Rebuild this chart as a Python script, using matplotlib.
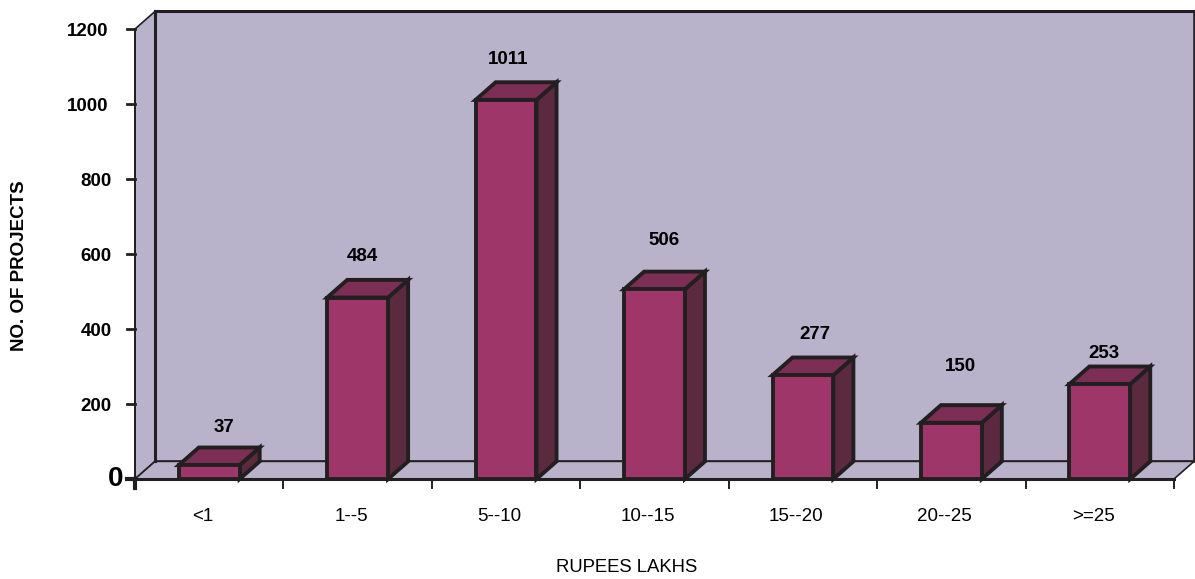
#!/usr/bin/env python3
"""
Projects by cost band, drawn as a pseudo 3D column chart.
"""
import matplotlib.pyplot as plt
from matplotlib.patches import Polygon

categories = ["<1", "1--5", "5--10", "10--15", "15--20", "20--25", ">=25"]
projects = [37, 484, 1011, 506, 277, 150, 253]
y_ticks = [0, 200, 400, 600, 800, 1000, 1200]
label_gap = [101, 110, 107, 131, 109, 149, 83]  # value label height above the column
label_shift = [0.10, 0.035, 0.013, 0.065, 0.08, 0.06, 0.027]  # value label offset along x

WALL = "#b8b3ca"
FRONT = "#9e3669"
TOP = "#7c2e55"
SIDE = "#5c2a3e"
INK = "#231f20"

W, H = 1195, 579
DX, DY = 0.135, 47  # depth of the box in data units
BAR_W = 0.41


def face(ax, pts, color, lw=2.8, z=1):
    ax.add_patch(Polygon(pts, closed=True, facecolor=color, edgecolor=INK, lw=lw,
                         joinstyle="miter", clip_on=False, zorder=z))


def main():
    plt.rcParams["font.family"] = ["Liberation Sans", "DejaVu Sans"]
    fig = plt.figure(figsize=(W / 100, H / 100), dpi=100, facecolor="white")
    ax = fig.add_axes([135 / W, 1 - 479 / H, 1039 / W, 450 / H])
    n = len(categories)
    ax.set_xlim(0, n)
    ax.set_ylim(0, 1200)
    ax.axis("off")

    # back wall, side wall and floor
    top = y_ticks[-1]
    face(ax, [(DX, DY), (n + DX, DY), (n + DX, top + DY), (DX, top + DY)], WALL, lw=1.8)
    face(ax, [(0, 0), (DX, DY), (DX, top + DY), (0, top)], WALL, lw=1.2)
    face(ax, [(0, 0), (n, 0), (n + DX, DY), (DX, DY)], WALL, lw=1.2)
    ax.plot([DX, DX], [DY, top + DY], color=INK, lw=2.2, zorder=2, clip_on=False)
    ax.plot([DX, n + DX], [top + DY, top + DY], color=INK, lw=2.2, zorder=2, clip_on=False)
    ax.plot([0, 0], [0, top], color=INK, lw=1.4, zorder=2, clip_on=False)
    ax.plot([0, n], [0, 0], color=INK, lw=2.2, zorder=2, clip_on=False)

    # value axis ticks and labels
    for v in y_ticks:
        ax.plot([-0.054, 0], [v, v], color=INK, lw=3 if v == 0 else 2.0, zorder=2, clip_on=False)
        if v == 0:
            ax.text(-0.08, v, str(v), ha="right", va="center", fontsize=20, fontweight="bold")
        else:
            right = -0.182 if v >= 1000 else -0.155
            ax.text(right, v - 6, str(v), ha="right", va="center", fontsize=13.5, fontweight="bold")

    # category ticks and labels
    for i in range(n + 1):
        ax.plot([i, i], [0, -24], color=INK, lw=3 if i == 0 else 1.4, zorder=2, clip_on=False)
    for i, name in enumerate(categories):
        ax.text(i + 0.455, -100, name, ha="center", va="center", fontsize=13.5)

    # columns
    for i, (v, gap, shift) in enumerate(zip(projects, label_gap, label_shift)):
        x0, x1 = i + 0.5 - BAR_W / 2, i + 0.5 + BAR_W / 2
        face(ax, [(x1, 0), (x1 + DX, DY), (x1 + DX, v + DY), (x1, v)], SIDE, z=3)
        face(ax, [(x0, v), (x1, v), (x1 + DX, v + DY), (x0 + DX, v + DY)], TOP, z=3)
        face(ax, [(x0, 0), (x1, 0), (x1, v), (x0, v)], FRONT, z=4)
        ax.text(i + 0.5 + shift, v + gap, str(v), ha="center", va="center",
                fontsize=13.5, fontweight="bold", zorder=5)

    fig.text(627 / W, 1 - 567 / H, "RUPEES LAKHS", ha="center", va="center", fontsize=13.3)
    fig.text(20 / W, 1 - 266 / H, "NO. OF PROJECTS", ha="center", va="center",
             rotation=90, fontsize=13.5, fontweight="bold")

    fig.savefig("out.png", dpi=100, facecolor="white")


if __name__ == "__main__":
    main()
